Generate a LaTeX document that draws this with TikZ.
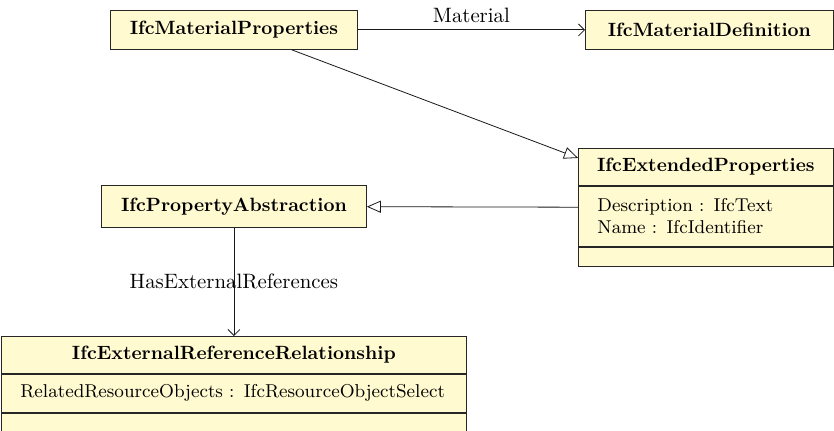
\documentclass[tikz,border=0pt]{standalone}
\usetikzlibrary{positioning, arrows.meta, calc}
\definecolor{classfill}{RGB}{255,250,208}
\tikzstyle{classbox} = [draw=black!85, fill=classfill, font=\fontsize{9.6}{11.5}\selectfont\bfseries, inner sep=0pt, anchor=north west]
\tikzstyle{attrbox} = [draw=black!85, fill=classfill, font=\fontsize{9.3}{11}\selectfont, align=left, inner xsep=9.5pt, inner ysep=0pt]
\tikzstyle{assoc} = [draw=black!90, -{Straight Barb[length=3pt,width=6pt]}]
\tikzstyle{inherit} = [draw=black!90, -{Triangle[open,length=7pt,width=6pt]}]
\tikzstyle{rolename} = [font=\fontsize{10.4}{12.5}\selectfont]

\begin{document}
\begin{tikzpicture}[x=0.5pt, y=-0.5pt]
\useasboundingbox (0,0) rectangle (834,431);
% classes
\node[classbox, minimum width=123.5pt, minimum height=19.5pt] (matprop) at (110,10) {IfcMaterialProperties};
\node[classbox, minimum width=124pt, minimum height=19.5pt] (matdef) at (585,10) {IfcMaterialDefinition};
\node[classbox, minimum width=132.5pt, minimum height=21pt] (propabs) at (101,185) {IfcPropertyAbstraction};
\node[classbox, minimum width=127.5pt, minimum height=18.5pt] (exthead) at (578,148) {IfcExtendedProperties};
\node[attrbox, text width=108.5pt, minimum height=30pt, below=0pt of exthead] (extattr) {Description : IfcText\\Name : IfcIdentifier\\[-3pt]};
\node[attrbox, text width=108.5pt, minimum height=9.5pt, below=0pt of extattr] (extops) {};
\node[classbox, minimum width=232.5pt, minimum height=18.5pt] (errhead) at (1,336) {IfcExternalReferenceRelationship};
\node[attrbox, text width=213.5pt, minimum height=19pt, below=0pt of errhead] (errattr) {RelatedResourceObjects : IfcResourceObjectSelect};
\node[attrbox, text width=213.5pt, minimum height=9.5pt, below=0pt of errattr] (errops) {};
\coordinate (extleft) at ($(exthead.north west)!0.5!(extops.south west)$);
% relations
\draw[assoc] (matprop) -- node[above, rolename] {Material} (matdef);
\draw[inherit] (matprop.-19) -- (exthead.176);
\draw[inherit] (extleft) -- (propabs);
\draw[assoc] (propabs) -- node[rolename] {HasExternalReferences} (errhead);
\end{tikzpicture}
\end{document}
